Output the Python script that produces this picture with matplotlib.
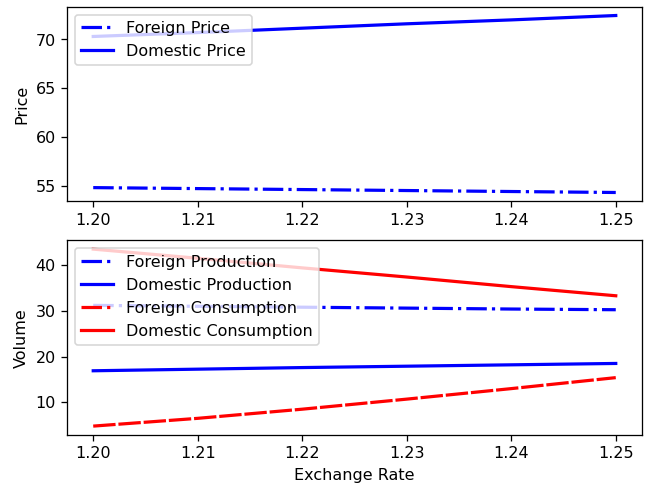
import numpy as np
import matplotlib.pyplot as plt
from matplotlib.lines import Line2D

# exchange rate grid
rate = [1.20, 1.21, 1.22, 1.23, 1.24, 1.25]

# prices
foreign_price = [54.8, 54.7, 54.6, 54.5, 54.4, 54.3]
domestic_price = [70.3, 70.7, 71.15, 71.6, 72.0, 72.45]

# volumes
foreign_production = [31.2, 31.0, 30.8, 30.6, 30.4, 30.25]
domestic_production = [16.9, 17.25, 17.6, 17.9, 18.2, 18.5]
foreign_consumption = [4.8, 6.5, 8.5, 10.7, 13.0, 15.4]
domestic_consumption = [43.5, 41.5, 39.4, 37.4, 35.3, 33.3]

fig, (ax1, ax2) = plt.subplots(2, 1, figsize=(5.6, 4.22), dpi=115.2)
fig.subplots_adjust(left=0.104, right=0.995, top=0.986, bottom=0.105, hspace=0.2)

lw = 2
ax1.plot(rate, foreign_price, color='blue', ls='-.', lw=lw, label='Foreign Price')
ax1.plot(rate, domestic_price, color='blue', ls='-', lw=lw, label='Domestic Price')
ax1.set_ylabel('Price')
ax1.legend(loc='upper left')

ax2.plot(rate, foreign_production, color='blue', ls='-.', lw=lw)
ax2.plot(rate, domestic_production, color='blue', ls='-', lw=lw)
ax2.plot(rate, foreign_consumption, color='red', lw=lw, dashes=(7, 0.9))
ax2.plot(rate, domestic_consumption, color='red', ls='-', lw=lw)
handles = [
    Line2D([], [], color='blue', ls='-.', lw=lw),
    Line2D([], [], color='blue', ls='-', lw=lw),
    Line2D([], [], color='red', ls='-.', lw=lw),
    Line2D([], [], color='red', ls='-', lw=lw),
]
ax2.legend(handles, ['Foreign Production', 'Domestic Production',
                     'Foreign Consumption', 'Domestic Consumption'], loc='upper left')
ax2.set_ylabel('Volume')
ax2.set_xlabel('Exchange Rate')

for ax in (ax1, ax2):
    ax.set_xticks(rate)
    ax.set_xticklabels([f'{r:.2f}' for r in rate])

fig.savefig('out.png', dpi=115.2)
